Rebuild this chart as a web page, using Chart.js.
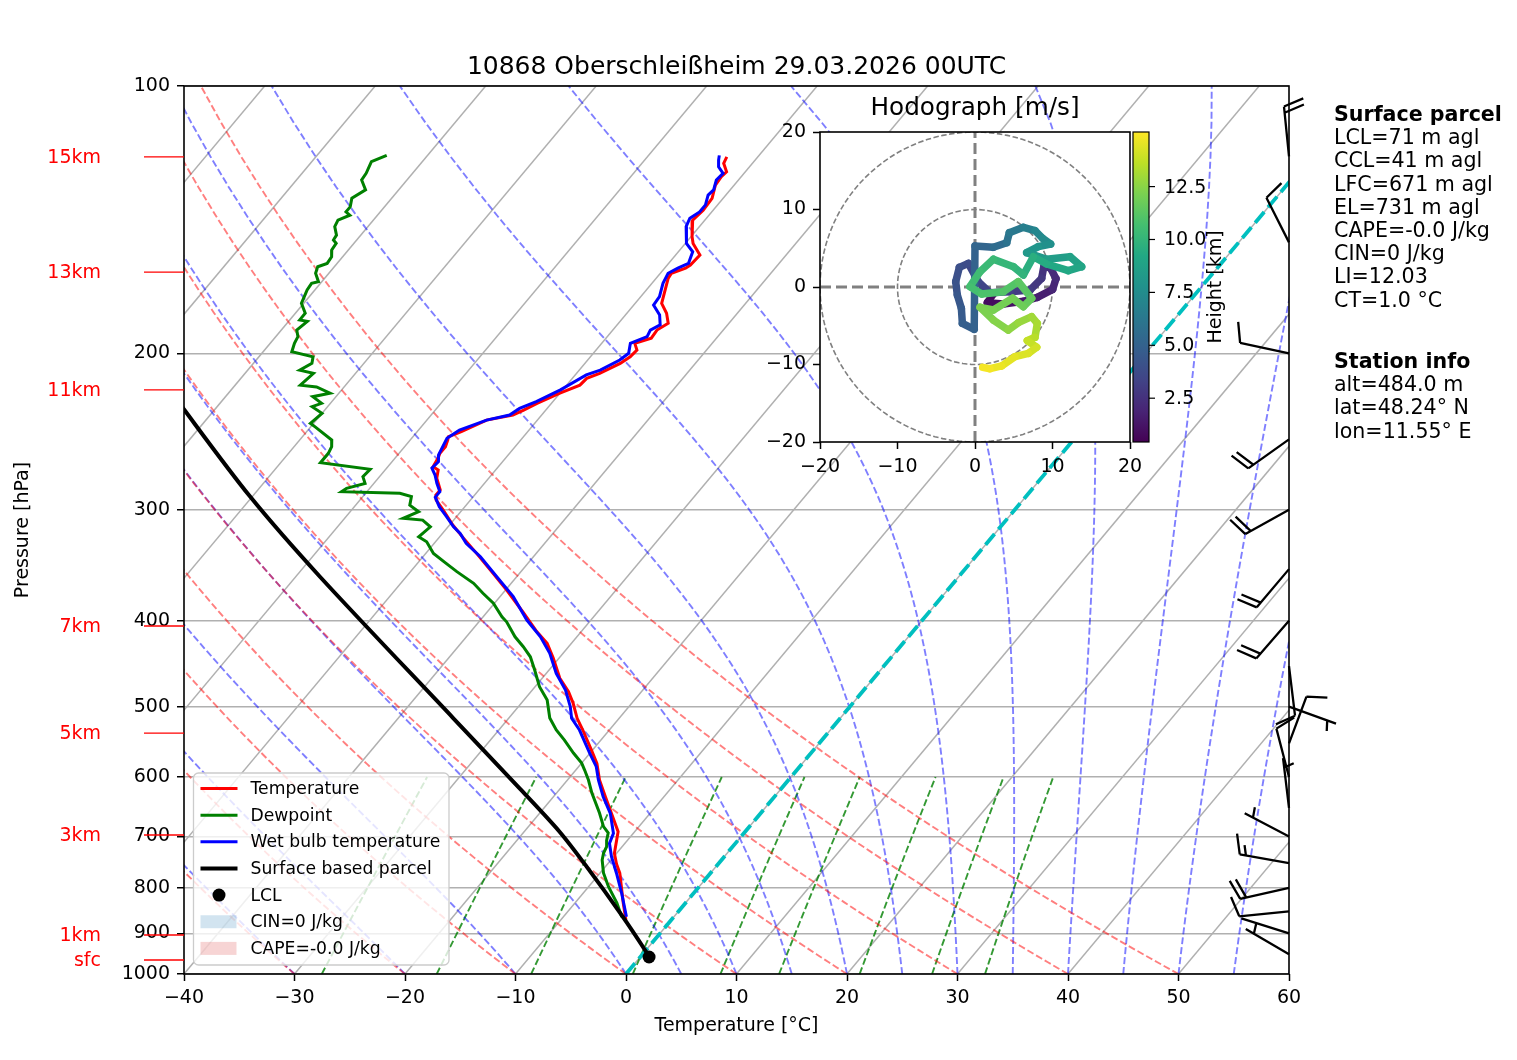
<!DOCTYPE html>
<html>
<head>
<meta charset="utf-8">
<title>10868 Oberschleißheim Skew-T</title>
<script src="https://cdn.jsdelivr.net/npm/chart.js@4.4.1/dist/chart.umd.min.js"></script>
<style>
    html, body { margin: 0; padding: 0; background: #fff; }
    #wrap { position: relative; width: 1517px; height: 1060px; font-family: "DejaVu Sans", sans-serif; }
    #skewt { position: absolute; left: 0; top: 0; }
    #hodo { position: absolute; left: 740px; top: 90px; }
    .info { position: absolute; left: 1334px; font-size: 20.6px; line-height: 23.2px; color: #000; white-space: pre; }
</style>
</head>
<body>
<div id="wrap">
    <canvas id="skewt" width="1517" height="1060"></canvas>
    <canvas id="hodo" width="500" height="390"></canvas>
    <div class="info" style="top:103px"><b>Surface parcel</b>
LCL=71 m agl
CCL=41 m agl
LFC=671 m agl
EL=731 m agl
CAPE=-0.0 J/kg
CIN=0 J/kg
LI=12.03
CT=1.0 °C</div>
    <div class="info" style="top:350px"><b>Station info</b>
alt=484.0 m
lat=48.24° N
lon=11.55° E</div>
</div>
<script>
// sounding, pressure in hPa, temperature in °C (top to bottom)
const tempP = [120.2, 122.2, 124.9, 126.5, 129.3, 133.8, 138.0, 141.6, 147.8, 150.4,
    155.0, 159.1, 160.4, 162.5, 164.7, 175.7, 180.3, 185.0, 188.3, 192.3,
    194.9, 198.3, 201.8, 205.3, 210.7, 213.4, 217.2, 221.8, 227.7, 231.7,
    234.7, 237.8, 245.1, 248.3, 250.4, 254.8, 259.2, 262.6, 268.4, 270.6,
    276.5, 285.0, 288.8, 292.6, 300.3, 312.2, 323.2, 336.0, 353.8, 369.5,
    390.9, 411.7, 424.2, 441.1, 464.5, 480.9, 495.6, 515.3, 531.2, 559.5,
    579.1, 604.7, 631.5, 659.2, 691.4, 706.5, 731.2, 751.7, 770.0, 832.6, 869.4];
const tempT = [-52.8, -52.6, -51.7, -51.8, -51.7, -51.0, -50.9, -51.1, -49.9, -49.3,
    -47.8, -47.9, -48.1, -49.0, -48.9, -47.6, -46.4, -45.5, -46.0, -45.9,
    -47.0, -46.3, -46.4, -46.8, -47.9, -48.7, -48.8, -50.0, -51.3, -52.0,
    -52.6, -54.6, -56.0, -56.8, -56.6, -56.3, -56.3, -56.1, -55.9, -55.2,
    -54.7, -53.5, -53.5, -53.1, -51.7, -49.7, -47.7, -45.4, -42.4, -39.9,
    -36.8, -34.0, -32.2, -30.5, -28.4, -26.6, -25.3, -23.8, -22.4, -20.1,
    -18.6, -17.1, -15.3, -13.5, -11.5, -11.0, -10.2, -9.2, -8.2, -5.6, -4.1];

const wetP = [119.7, 121.2, 123.3, 125.4, 127.6, 130.9, 132.7, 136.1, 138.6, 140.9,
    144.0, 150.4, 153.7, 158.4, 160.4, 162.5, 166.8, 172.7, 176.5, 181.1,
    185.8, 188.3, 191.5, 194.9, 200.0, 203.5, 208.9, 211.5, 219.9, 226.7,
    230.7, 234.7, 237.8, 244.0, 249.3, 260.3, 264.9, 269.4, 274.2, 280.2,
    286.3, 290.4, 297.8, 305.5, 313.6, 319.0, 327.4, 338.9, 357.0, 375.9,
    399.4, 417.1, 435.4, 458.6, 478.8, 500.0, 515.3, 531.2, 564.3, 584.2,
    604.7, 631.5, 659.2, 694.3, 712.6, 737.8, 770.0, 811.3, 862.0];
const wetT = [-53.6, -53.3, -52.8, -51.9, -52.0, -51.5, -51.6, -51.1, -51.1, -51.5,
    -51.2, -49.9, -48.7, -48.2, -48.8, -49.3, -49.0, -48.3, -48.2, -46.9,
    -46.1, -46.6, -46.4, -47.4, -46.8, -47.1, -48.1, -49.0, -50.2, -51.5,
    -52.5, -52.9, -54.6, -56.3, -56.8, -56.3, -55.8, -55.9, -55.1, -54.3,
    -53.4, -53.4, -52.3, -50.9, -49.5, -48.4, -47.1, -44.8, -41.8, -38.8,
    -35.8, -33.3, -31.2, -29.1, -27.0, -25.3, -24.3, -22.7, -20.0, -18.4,
    -17.2, -15.5, -13.6, -11.8, -11.4, -10.2, -8.5, -6.5, -4.3];

const dewP = [119.7, 121.7, 125.4, 127.6, 130.9, 133.8, 136.8, 138.6, 139.8, 141.6,
    144.0, 147.2, 149.1, 150.4, 153.0, 155.7, 158.4, 159.8, 162.5, 166.1,
    166.8, 169.7, 175.7, 180.3, 183.4, 184.1, 188.3, 191.5, 194.9, 199.2,
    201.8, 205.3, 208.9, 210.7, 217.2, 218.2, 221.8, 223.8, 227.7, 229.7,
    233.7, 239.8, 242.0, 250.4, 254.8, 259.2, 265.6, 270.2, 275.4, 280.2,
    283.8, 286.3, 287.5, 290.0, 296.5, 301.6, 306.8, 308.2, 313.6, 321.8,
    326.0, 336.0, 344.8, 352.3, 363.1, 372.6, 382.4, 396.0, 401.2, 417.1,
    428.0, 439.3, 454.7, 474.8, 491.4, 514.9, 531.2, 545.2, 563.9, 578.7,
    589.3, 604.7, 625.5, 658.7, 682.5, 693.7, 706.5, 718.9, 730.7, 744.0,
    769.4, 797.4, 831.9, 862.7];
const dewT = [-83.7, -84.6, -84.2, -84.1, -83.0, -83.6, -83.1, -83.1, -82.5, -83.2,
    -83.0, -82.2, -82.1, -81.6, -81.5, -81.0, -80.9, -81.5, -81.2, -80.3,
    -80.8, -80.7, -80.2, -79.1, -79.1, -78.3, -78.6, -78.0, -77.8, -77.4,
    -75.1, -74.7, -75.3, -73.8, -74.1, -72.5, -70.8, -72.1, -70.8, -71.4,
    -70.0, -70.3, -69.6, -67.1, -66.6, -66.4, -66.4, -61.4, -61.5, -60.8,
    -62.1, -62.3, -56.9, -55.6, -55.1, -53.8, -54.7, -52.8, -51.6, -51.9,
    -50.8, -49.3, -47.4, -45.8, -43.4, -41.8, -40.1, -38.3, -37.5, -35.6,
    -34.1, -32.7, -31.3, -29.6, -27.9, -26.3, -24.8, -23.3, -21.5, -20.0,
    -19.2, -18.1, -16.8, -14.6, -13.2, -12.3, -11.9, -11.4, -11.2, -10.8,
    -9.7, -8.2, -6.2, -4.7];

const parcelP = [967.0, 939.7, 854.5, 757.0, 691.4, 617.9, 515.3, 357.0, 290.0, 231.7, 200.0];
const parcelT = [1.3, -0.1, -5.1, -11.7, -16.8, -23.7, -35.0, -57.8, -70.2, -82.7, -90.7];
const lclP = [956.9];
const lclT = [0.8];

// wind barbs on the right edge (hPa, kt components)
const barbP = [120, 150, 200, 250, 300, 350, 400, 450, 500, 550, 600, 650, 700, 750, 800, 850, 900, 950];
const barbU = [2.0, 4.5, 9.8, 16.3, 17.5, 12.9, 13.1, -1.2, -4.7, -3.5, 2.5, 0.6, 4.4, 14.8, 19.5, 10.0, 1.9, 4.3];
const barbV = [-19.9, -8.9, -2.1, 11.6, 9.8, 15.3, 15.1, 9.9, 1.7, -9.4, -9.6, -5.0, -2.3, -2.6, 4.4, 1.0, -0.6, -2.5];

// hodograph trace (m/s) and height (km)
const hodoU = [0.82, 2.37, 1.59, 3.66, 6.24, 8.04, 10.02, 10.45, 9.76, 8.90,
    8.60, 7.10, 4.52, 1.94, 0.43, -0.86, -2.02, -2.49, -2.28, -1.76,
    -1.63, -0.10, 0.0, 2.37, 4.09, 4.43, 6.24, 7.74, 8.73, 9.76,
    8.17, 6.67, 9.25, 12.26, 13.76, 12.04, 9.25, 7.53, 6.24, 4.95,
    2.37, 0.65, -0.65, 0.86, 3.66, 5.59, 7.31, 6.24, 4.86, 2.37,
    0.65, 2.37, 4.30, 5.59, 7.31, 8.04, 7.74, 6.75, 7.96, 6.88,
    5.16, 3.44, 1.94, 0.99];
const hodoV = [-0.39, -0.90, -2.02, -2.19, -1.85, -1.33, -0.30, 1.08, 2.41, 2.71,
    1.12, -0.39, -0.60, -0.73, 0.69, 3.05, 2.54, 0.69, -1.03, -2.75,
    -4.69, -5.46, 5.29, 5.12, 5.72, 7.01, 7.70, 7.27, 6.28, 5.55,
    5.20, 4.43, 3.57, 3.91, 2.62, 2.11, 2.97, 3.91, 1.55, 2.62,
    3.57, 1.98, 0.04, -0.90, -0.60, 0.69, -1.46, -2.54, -1.46, -2.97,
    -2.62, -4.26, -5.55, -4.60, -3.83, -4.69, -6.49, -6.92, -7.78, -8.56,
    -8.99, -10.19, -10.54, -10.37];
const hodoH = [0.45, 0.7, 0.9, 1.1, 1.4, 1.7, 2.0, 2.2, 2.4, 2.6,
    2.8, 3.0, 3.2, 3.4, 3.6, 3.8, 4.0, 4.2, 4.4, 4.6,
    4.8, 5.0, 5.2, 5.6, 6.0, 6.3, 6.7, 7.1, 7.4, 7.7,
    8.0, 8.2, 8.5, 8.8, 9.0, 9.2, 9.4, 9.6, 9.9, 10.1,
    10.3, 10.5, 10.7, 10.9, 11.1, 11.3, 11.6, 11.8, 12.0, 12.1,
    12.2, 12.4, 12.6, 12.8, 13.0, 13.2, 13.5, 13.8, 14.1, 14.3,
    14.5, 14.7, 14.9, 15.05];

// axes, reference lines and labels
const pressureTicks = [100, 200, 300, 400, 500, 600, 700, 800, 900, 1000];
const kmLabels = ['15km', '13km', '11km', '7km', '5km', '3km', '1km', 'sfc'];
const kmP = [120.2, 162.0, 219.9, 405.6, 535.4, 697.4, 903.8, 964.3];
const isoT = [-100, -90, -80, -70, -60, -50, -40, -30, -20, -10, 0, 10, 20, 30, 40, 50, 60];
const dryT0 = [-40, -30, -20, -10, 0, 10, 20, 30, 40, 50];
const moistT0 = [-40, -30, -20, -10, 0, 5, 10, 15, 20, 25, 30, 35, 40, 45, 50, 55, 60];
const mixRatios = [0.0004, 0.001, 0.002, 0.004, 0.007, 0.01, 0.016, 0.024, 0.032];
const colorbarTicks = [2.5, 5, 7.5, 10, 12.5];
const heightRange = [0.43, 15.08];
const titleText = '10868 Oberschleißheim 29.03.2026 00UTC';

const SKEW = 67.3; // °C shift per decade of pressure
const FONT = '"DejaVu Sans", sans-serif';

Chart.defaults.font.family = FONT;
Chart.defaults.color = '#000';

function skewX(t, p) {
    return t + SKEW * Math.log10(1000 / p);
}

function profile(ps, ts) {
    return ps.map((p, i) => ({ x: skewX(ts[i], p), y: p }));
}

function minus(v) {
    return String(v).replace('-', '\u2212');
}

function moistLapse(p, t) {
    const es = 6.112 * Math.exp(17.67 * (t - 273.15) / (t - 29.65));
    const rs = 0.622 * es / (p - es);
    const Rd = 287.04749, Cp = 1004.6662, Lv = 2.50084e6;
    return (Rd * t + Lv * rs) / (Cp + Lv * Lv * rs * 0.622 / (Rd * t * t)) / p;
}

function dryAdiabat(t0) {
    const pts = [];
    for (let p = 1000; p >= 100; p -= 10) {
        pts.push({ x: skewX((t0 + 273.15) * Math.pow(p / 1000, 0.2857) - 273.15, p), y: p });
    }
    return pts;
}

function moistAdiabat(t0) {
    let t = t0 + 273.15;
    const pts = [{ x: skewX(t0, 1000), y: 1000 }];
    const h = -10;
    for (let p = 1000; p > 100; p += h) {
        const k1 = moistLapse(p, t);
        const k2 = moistLapse(p + h / 2, t + h / 2 * k1);
        const k3 = moistLapse(p + h / 2, t + h / 2 * k2);
        const k4 = moistLapse(p + h, t + h * k3);
        t += h / 6 * (k1 + 2 * k2 + 2 * k3 + k4);
        pts.push({ x: skewX(t - 273.15, p + h), y: p + h });
    }
    return pts;
}

function mixingLine(w) {
    const pts = [];
    for (let p = 1000; p >= 600; p -= 25) {
        const l = Math.log(p * w / (0.622 + w) / 6.112);
        pts.push({ x: skewX(243.5 * l / (17.67 - l), p), y: p });
    }
    return pts;
}

function line(data, color, width, dash, order, label) {
    return {
        label: label,
        data: data,
        showLine: true,
        borderColor: color,
        backgroundColor: color,
        borderWidth: width,
        borderDash: dash || [],
        pointRadius: 0,
        pointHoverRadius: 0,
        fill: false,
        order: order
    };
}

const VIRIDIS = [[68, 1, 84], [72, 36, 117], [65, 68, 135], [53, 95, 141], [42, 120, 142], [33, 145, 140],
    [34, 168, 132], [68, 191, 112], [122, 209, 81], [189, 223, 38], [253, 231, 37]];

function viridis(t) {
    t = Math.min(1, Math.max(0, t)) * 10;
    const i = Math.min(9, Math.floor(t));
    const f = t - i;
    const a = VIRIDIS[i], b = VIRIDIS[i + 1];
    return 'rgb(' + a.map((c, k) => Math.round(c + (b[k] - c) * f)).join(',') + ')';
}

function drawBarb(ctx, x0, y0, u, v, len) {
    const spd = Math.hypot(u, v);
    const dx = -u / spd, dy = v / spd;
    const nx = -dy, ny = dx;
    const rounded = Math.round(spd / 5) * 5;
    const full = Math.floor(rounded / 10);
    const half = rounded % 10 >= 5;
    const fh = 0.4 * len, fw = 0.25 * len, sp = 0.125 * len;
    ctx.beginPath();
    ctx.moveTo(x0, y0);
    ctx.lineTo(x0 + dx * len, y0 + dy * len);
    let off = len;
    for (let i = 0; i < full; i++) {
        const bx = x0 + dx * off, by = y0 + dy * off;
        ctx.moveTo(bx, by);
        ctx.lineTo(bx + nx * fh + dx * fw / 2, by + ny * fh + dy * fw / 2);
        off -= sp;
    }
    if (half) {
        if (off === len) off -= 1.5 * sp;
        const bx = x0 + dx * off, by = y0 + dy * off;
        ctx.moveTo(bx, by);
        ctx.lineTo(bx + nx * fh / 2 + dx * fw / 4, by + ny * fh / 2 + dy * fw / 4);
    }
    ctx.stroke();
}

const skewDecor = {
    id: 'skewDecor',
    afterDraw(chart) {
        const { ctx, chartArea: a, scales: { y } } = chart;
        ctx.save();

        ctx.strokeStyle = '#000';
        ctx.lineWidth = 1.6;
        ctx.strokeRect(a.left, a.top, a.right - a.left, a.bottom - a.top);

        ctx.fillStyle = '#000';
        ctx.font = '25px ' + FONT;
        ctx.textAlign = 'center';
        ctx.textBaseline = 'middle';
        ctx.fillText(titleText, (a.left + a.right) / 2, a.top - 19);

        // height markers left of the pressure axis
        ctx.strokeStyle = '#ff0000';
        ctx.fillStyle = '#ff0000';
        ctx.lineWidth = 1.3;
        ctx.font = '19px ' + FONT;
        ctx.textAlign = 'right';
        kmP.forEach((p, i) => {
            const py = y.getPixelForValue(p);
            ctx.beginPath();
            ctx.moveTo(a.left - 40, py);
            ctx.lineTo(a.left, py);
            ctx.stroke();
            ctx.fillText(kmLabels[i], a.left - 83, py + 1);
        });

        // legend
        const bx = a.left + 9.5, by = a.bottom - 201, bw = 255.5, bh = 192;
        ctx.beginPath();
        ctx.roundRect(bx, by, bw, bh, 5);
        ctx.fillStyle = 'rgba(255,255,255,0.8)';
        ctx.fill();
        ctx.strokeStyle = '#cccccc';
        ctx.lineWidth = 1.3;
        ctx.stroke();
        const items = chart.data.datasets.filter(d => d.label).sort((p, q) => p.legendIndex - q.legendIndex);
        const patches = [['CIN=0 J/kg', 'rgba(31,119,180,0.2)'], ['CAPE=-0.0 J/kg', 'rgba(214,39,40,0.2)']];
        ctx.font = '17.2px ' + FONT;
        ctx.textAlign = 'left';
        ctx.textBaseline = 'middle';
        let row = by + 15.5;
        items.forEach(d => {
            if (d.showLine) {
                ctx.strokeStyle = d.borderColor;
                ctx.lineWidth = d.borderWidth;
                ctx.beginPath();
                ctx.moveTo(bx + 7, row);
                ctx.lineTo(bx + 44, row);
                ctx.stroke();
            } else {
                ctx.fillStyle = d.pointBackgroundColor;
                ctx.beginPath();
                ctx.arc(bx + 25.5, row, d.pointRadius, 0, Math.PI * 2);
                ctx.fill();
            }
            ctx.fillStyle = '#000';
            ctx.fillText(d.label, bx + 57, row + 1);
            row += 26.65;
        });
        patches.forEach(pt => {
            ctx.fillStyle = pt[1];
            ctx.fillRect(bx + 7, row - 6.5, 36, 13);
            ctx.fillStyle = '#000';
            ctx.fillText(pt[0], bx + 57, row + 1);
            row += 26.65;
        });

        // wind barbs
        ctx.strokeStyle = '#000';
        ctx.lineWidth = 2.3;
        ctx.lineCap = 'butt';
        ctx.lineJoin = 'miter';
        barbP.forEach((p, i) => drawBarb(ctx, a.right, y.getPixelForValue(p), barbU[i], barbV[i], 50));

        ctx.restore();
    }
};

const hodoDecor = {
    id: 'hodoDecor',
    beforeDraw(chart) {
        const { ctx, chartArea: a } = chart;
        ctx.save();
        ctx.fillStyle = '#fff';
        ctx.fillRect(a.left, a.top, a.right - a.left, a.bottom - a.top);
        ctx.restore();
    },
    afterDraw(chart) {
        const { ctx, chartArea: a, scales: { h } } = chart;
        ctx.save();
        ctx.strokeStyle = '#000';
        ctx.lineWidth = 1.6;
        ctx.strokeRect(a.left, a.top, a.right - a.left, a.bottom - a.top);

        ctx.fillStyle = '#000';
        ctx.font = '24.7px ' + FONT;
        ctx.textAlign = 'center';
        ctx.textBaseline = 'middle';
        ctx.fillText('Hodograph [m/s]', (a.left + a.right) / 2, a.top - 23);

        // colour bar for height
        const cx = a.right + 3, cw = 16;
        const top = h.getPixelForValue(heightRange[1]);
        const bottom = h.getPixelForValue(heightRange[0]);
        const grad = ctx.createLinearGradient(0, bottom, 0, top);
        VIRIDIS.forEach((c, i) => grad.addColorStop(i / 10, 'rgb(' + c.join(',') + ')'));
        ctx.fillStyle = grad;
        ctx.fillRect(cx, top, cw, bottom - top);
        ctx.lineWidth = 1.2;
        ctx.strokeRect(cx, top, cw, bottom - top);
        ctx.font = '19px ' + FONT;
        ctx.textAlign = 'left';
        ctx.fillStyle = '#000';
        colorbarTicks.forEach(v => {
            const py = h.getPixelForValue(v);
            ctx.beginPath();
            ctx.moveTo(cx + cw, py);
            ctx.lineTo(cx + cw + 6, py);
            ctx.stroke();
            ctx.fillText(v.toFixed(1), cx + cw + 15, py + 1);
        });
        ctx.translate(a.right + 86, (top + bottom) / 2);
        ctx.rotate(-Math.PI / 2);
        ctx.textAlign = 'center';
        ctx.fillText('Height [km]', 0, 0);
        ctx.restore();
    }
};

document.addEventListener('DOMContentLoaded', function () {
    const tickFont = { size: 19 };
    const datasets = [];

    const temp = line(profile(tempP, tempT), '#ff0000', 3, null, 5, 'Temperature');
    const dew = line(profile(dewP, dewT), '#008000', 3, null, 4, 'Dewpoint');
    const wet = line(profile(wetP, wetT), '#0000ff', 3, null, 3, 'Wet bulb temperature');
    const parcel = line(profile(parcelP, parcelT), '#000000', 4, null, 2, 'Surface based parcel');
    parcel.tension = 0.3;
    temp.legendIndex = 0;
    dew.legendIndex = 1;
    wet.legendIndex = 2;
    parcel.legendIndex = 3;
    const lcl = {
        label: 'LCL',
        legendIndex: 4,
        data: profile(lclP, lclT),
        showLine: false,
        pointRadius: 6.5,
        pointHoverRadius: 6.5,
        pointBackgroundColor: '#000',
        pointBorderWidth: 0,
        order: 1
    };
    datasets.push(temp, dew, wet, parcel, lcl);

    datasets.push(line([{ x: skewX(0, 1000), y: 1000 }, { x: skewX(0, 100), y: 100 }], '#00bfbf', 3.8, [14, 6], 6));
    dryT0.forEach(t => datasets.push(line(dryAdiabat(t), 'rgba(255,0,0,0.5)', 1.9, [7, 3], 10)));
    moistT0.forEach(t => datasets.push(line(moistAdiabat(t), 'rgba(0,0,255,0.5)', 1.9, [7, 3], 10)));
    mixRatios.forEach(w => datasets.push(line(mixingLine(w), 'rgba(0,128,0,0.8)', 1.9, [7, 3], 10)));
    isoT.forEach(t => datasets.push(line([{ x: skewX(t, 1000), y: 1000 }, { x: skewX(t, 100), y: 100 }], '#b0b0b0', 1.5, null, 11)));

    new Chart(document.getElementById('skewt'), {
        type: 'scatter',
        data: { datasets: datasets },
        options: {
            responsive: false,
            animation: false,
            events: [],
            layout: { padding: { left: 0, right: 228, top: 86, bottom: 0 } },
            plugins: { legend: { display: false }, tooltip: { enabled: false }, title: { display: false } },
            scales: {
                x: {
                    type: 'linear',
                    min: -40,
                    max: 60,
                    ticks: { stepSize: 10, font: tickFont, color: '#000', padding: 6, maxRotation: 0, autoSkip: false, callback: v => minus(v) },
                    grid: { drawOnChartArea: false, drawTicks: true, tickLength: 7, tickColor: '#000', tickWidth: 1.5 },
                    border: { display: false },
                    title: { display: true, text: 'Temperature [°C]', font: tickFont, color: '#000', padding: { top: 0, bottom: 22.6 } },
                    afterFit: s => { s.height = 86; }
                },
                y: {
                    type: 'logarithmic',
                    reverse: true,
                    min: 100,
                    max: 1000,
                    afterBuildTicks: s => { s.ticks = pressureTicks.map(v => ({ value: v })); },
                    ticks: { font: tickFont, color: '#000', padding: 7, autoSkip: false, callback: v => String(v) },
                    grid: { color: '#b0b0b0', lineWidth: 1.5, tickLength: 7, tickColor: '#000', tickWidth: 1.5 },
                    border: { display: false },
                    title: { display: true, text: 'Pressure [hPa]', font: tickFont, color: '#000', padding: { top: 12, bottom: 0 } },
                    afterFit: s => { s.width = 184; }
                }
            }
        },
        plugins: [skewDecor]
    });

    // hodograph inset
    const ring = r => {
        const pts = [];
        for (let a = 0; a <= 360; a += 3) pts.push({ x: r * Math.cos(a * Math.PI / 180), y: r * Math.sin(a * Math.PI / 180) });
        return pts;
    };
    const norm = v => (v - heightRange[0]) / (heightRange[1] - heightRange[0]);
    const trace = {
        data: hodoU.map((u, i) => ({ x: u, y: hodoV[i] })),
        showLine: true,
        borderWidth: 7.5,
        borderColor: viridis(0.5),
        borderCapStyle: 'round',
        borderJoinStyle: 'round',
        pointRadius: 0,
        pointHoverRadius: 0,
        segment: { borderColor: c => viridis(norm(hodoH[c.p0DataIndex])) },
        order: 0
    };
    const hodoSets = [
        trace,
        line([{ x: -20, y: 0 }, { x: 20, y: 0 }], '#808080', 3, [11, 5], 5),
        line([{ x: 0, y: -20 }, { x: 0, y: 20 }], '#808080', 3, [11, 5], 5),
        line(ring(10), '#808080', 1.6, [5.5, 2.5], 6),
        line(ring(20), '#808080', 1.6, [5.5, 2.5], 6)
    ];
    const hodoAxis = (fitKey, fitVal) => ({
        type: 'linear',
        min: -20,
        max: 20,
        ticks: { stepSize: 10, font: tickFont, color: '#000', padding: 7, maxRotation: 0, autoSkip: false, callback: v => minus(v) },
        grid: { drawOnChartArea: false, tickLength: 7, tickColor: '#000', tickWidth: 1.5 },
        border: { display: false },
        afterFit: s => { s[fitKey] = fitVal; }
    });

    new Chart(document.getElementById('hodo'), {
        type: 'scatter',
        data: { datasets: hodoSets },
        options: {
            responsive: false,
            animation: false,
            events: [],
            layout: { padding: { left: 0, right: 110, top: 42, bottom: 0 } },
            plugins: { legend: { display: false }, tooltip: { enabled: false } },
            scales: {
                x: hodoAxis('height', 38),
                y: hodoAxis('width', 80),
                h: { type: 'linear', display: false, position: 'right', min: heightRange[0], max: heightRange[1] }
            }
        },
        plugins: [hodoDecor]
    });
});
</script>
</body>
</html>
